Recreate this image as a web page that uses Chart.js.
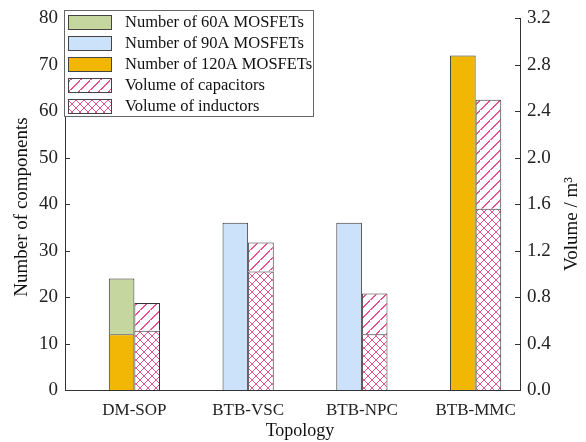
<!DOCTYPE html>
<html>
<head>
<meta charset="utf-8">
<script src="https://cdn.jsdelivr.net/npm/chart.js@4/dist/chart.umd.min.js"></script>
<style>
  html, body { margin: 0; padding: 0; background: #fff; }
  #wrap { width: 586px; height: 442px; }
</style>
</head>
<body>
<div id="wrap"><canvas id="chart" width="586" height="442"></canvas></div>
<script>
// data
var categories = ['DM-SOP', 'BTB-VSC', 'BTB-NPC', 'BTB-MMC'];
var mosfet60 = [12, null, null, null];
var mosfet90 = [null, 36, 36, null];
var mosfet120 = [12, null, null, 72];
var inductorVol = [0.51, 1.02, 0.48, 1.56];
var capacitorVol = [0.24, 0.25, 0.35, 0.94];
var countTicks = [0, 10, 20, 30, 40, 50, 60, 70, 80];
var volumeTicks = [0, 0.4, 0.8, 1.2, 1.6, 2.0, 2.4, 2.8, 3.2];

var FONT = "'Liberation Serif', 'Times New Roman', serif";
var PINK = '#e6528c';

// pixel hatch tiles, no antialiasing
function makePattern(kind) {
  var c = document.createElement('canvas');
  var s = kind === 'cap' ? 10 : 8;
  c.width = s; c.height = s;
  var g = c.getContext('2d');
  g.fillStyle = '#fff';
  g.fillRect(0, 0, s, s);
  g.fillStyle = PINK;
  for (var i = 0; i < s; i++) {
    if (kind === 'cap') {
      g.fillRect(i, s - 1 - i, 2, 1);
    } else {
      g.fillRect(i, s - 1 - i, 1, 1);
      g.fillRect(i, i, 1, 1);
    }
  }
  return g.createPattern(c, 'repeat');
}

var capPattern = makePattern('cap');
var indPattern = makePattern('ind');

function points(arr) {
  return arr.map(function (v, i) { return { x: i + 1, y: v }; });
}

var legendItems = [
  { text: 'Number of 60A MOSFETs', fill: '#c5d69f' },
  { text: 'Number of 90A MOSFETs', fill: '#cce1fa' },
  { text: 'Number of 120A MOSFETs', fill: '#f2b705' },
  { text: 'Volume of capacitors', fill: capPattern },
  { text: 'Volume of inductors', fill: indPattern }
];

/*-- inward ticks, axis titles, legend --*/
var decor = {
  id: 'decor',
  afterDraw: function (chart) {
    var ctx = chart.ctx;
    var a = chart.chartArea;
    var y = chart.scales.y, y1 = chart.scales.y1;
    ctx.save();
    ctx.strokeStyle = '#333';
    ctx.lineWidth = 1;
    ctx.beginPath();
    countTicks.forEach(function (v) {
      var p = Math.round(y.getPixelForValue(v)) + 0.5;
      ctx.moveTo(a.left, p); ctx.lineTo(a.left + 5, p);
    });
    volumeTicks.forEach(function (v) {
      var p = Math.round(y1.getPixelForValue(v)) + 0.5;
      ctx.moveTo(a.right, p); ctx.lineTo(a.right - 5, p);
    });
    ctx.stroke();

    // axis titles
    ctx.fillStyle = '#111';
    ctx.font = '19px ' + FONT;
    ctx.textAlign = 'center';
    ctx.textBaseline = 'middle';
    ctx.save();
    ctx.translate(22, 207);
    ctx.rotate(-Math.PI / 2);
    ctx.fillText('Number of components', 0, 0);
    ctx.restore();
    ctx.save();
    ctx.translate(572, 224);
    ctx.rotate(-Math.PI / 2);
    ctx.fillText('Volume / m\u00B3', 0, 0);
    ctx.restore();
    ctx.font = '18px ' + FONT;
    ctx.fillText('Topology', 300, 431);

    // legend box
    var bx = 64.5, by = 10.5, bw = 249, bh = 106;
    ctx.fillStyle = '#fff';
    ctx.fillRect(bx, by, bw, bh);
    ctx.strokeStyle = '#666';
    ctx.strokeRect(bx, by, bw, bh);
    ctx.font = '16.5px ' + FONT;
    ctx.textAlign = 'left';
    legendItems.forEach(function (it, i) {
      var cy = 22 + i * 21;
      ctx.fillStyle = it.fill;
      ctx.fillRect(68, cy - 7, 44, 15);
      ctx.strokeStyle = '#444';
      ctx.strokeRect(68.5, cy - 6.5, 43, 14);
      ctx.fillStyle = '#111';
      ctx.fillText(it.text, 125, cy + 1);
    });
    ctx.restore();
  }
};

new Chart(document.getElementById('chart').getContext('2d'), {
  type: 'bar',
  data: {
    datasets: [{
      label: 'Number of 120A MOSFETs',
      data: points(mosfet120),
      stack: 'mos',
      yAxisID: 'y',
      backgroundColor: '#f2b705'
    }, {
      label: 'Number of 60A MOSFETs',
      data: points(mosfet60),
      stack: 'mos',
      yAxisID: 'y',
      backgroundColor: '#c5d69f'
    }, {
      label: 'Number of 90A MOSFETs',
      data: points(mosfet90),
      stack: 'mos',
      yAxisID: 'y',
      backgroundColor: '#cce1fa'
    }, {
      label: 'Volume of inductors',
      data: points(inductorVol),
      stack: 'vol',
      yAxisID: 'y1',
      backgroundColor: indPattern
    }, {
      label: 'Volume of capacitors',
      data: points(capacitorVol),
      stack: 'vol',
      yAxisID: 'y1',
      backgroundColor: capPattern
    }]
  },
  options: {
    responsive: false,
    animation: false,
    layout: { padding: { top: 12 } },
    datasets: {
      bar: {
        categoryPercentage: 0.45,
        barPercentage: 1.0,
        borderWidth: 1,
        borderColor: '#333',
        borderSkipped: 'start'
      }
    },
    plugins: {
      legend: { display: false },
      tooltip: { enabled: false }
    },
    scales: {
      x: {
        type: 'linear',
        stacked: true,
        offset: false,
        min: 0.39, max: 4.39,
        afterBuildTicks: function (s) { s.ticks = categories.map(function (c, i) { return { value: i + 1 }; }); },
        grid: { display: false, drawTicks: false },
        border: { display: true, color: '#333', width: 1 },
        ticks: {
          color: '#222', padding: 10, font: { family: FONT, size: 17 },
          callback: function (v) { return categories[Math.round(v) - 1]; }
        },
        afterFit: function (s) { s.height = 52; }
      },
      y: {
        stacked: true,
        position: 'left',
        min: 0, max: 80,
        afterBuildTicks: function (s) { s.ticks = countTicks.map(function (v) { return { value: v }; }); },
        grid: { display: false, drawTicks: false },
        border: { display: true, color: '#333', width: 1 },
        ticks: { color: '#222', padding: 7, font: { family: FONT, size: 19 } },
        afterFit: function (s) { s.width = 65; }
      },
      y1: {
        stacked: true,
        position: 'right',
        min: 0, max: 3.2,
        afterBuildTicks: function (s) { s.ticks = volumeTicks.map(function (v) { return { value: v }; }); },
        grid: { display: false, drawTicks: false },
        border: { display: true, color: '#333', width: 1 },
        ticks: {
          color: '#222', padding: 7, font: { family: FONT, size: 19 },
          callback: function (v) { return Number(v).toFixed(1); }
        },
        afterFit: function (s) { s.width = 66; }
      }
    }
  },
  plugins: [decor]
});
</script>
</body>
</html>
